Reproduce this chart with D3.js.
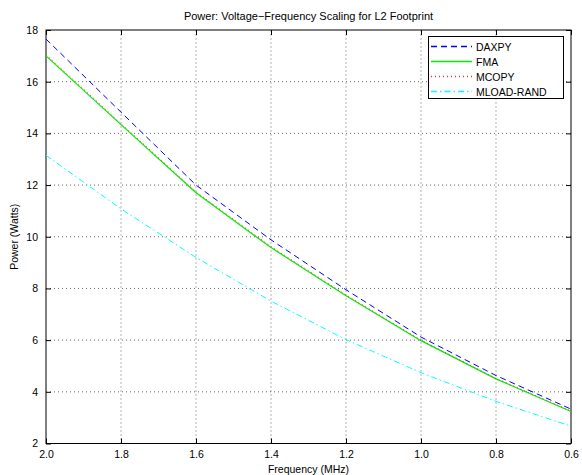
<!DOCTYPE html>
<html>
<head>
<meta charset="utf-8">
<script src="https://cdn.jsdelivr.net/npm/d3@7"></script>
<style>
  body { margin: 0; background: #fff; }
  text { font-family: "Liberation Sans", Arial, sans-serif; }
</style>
</head>
<body>
<div id="chart"></div>
<script>
// data
const freq = [2.0, 1.8, 1.6, 1.4, 1.2, 1.0, 0.8, 0.6];
const daxpy = [17.65, 14.82, 12.0, 9.88, 7.95, 6.12, 4.63, 3.33];
const fma = [17.0, 14.34, 11.7, 9.58, 7.72, 5.98, 4.5, 3.24];
const mcopy = [17.05, 14.38, 11.74, 9.62, 7.75, 6.0, 4.52, 3.26];
const mload = [13.15, 11.08, 9.2, 7.51, 6.02, 4.74, 3.63, 2.67];
const xTicks = [2.0, 1.8, 1.6, 1.4, 1.2, 1.0, 0.8, 0.6];
const yTicks = [2, 4, 6, 8, 10, 12, 14, 16, 18];

const series = [
  { name: "DAXPY", values: daxpy, color: "#0000ff", dash: "6,4", w: 1 },
  { name: "FMA", values: fma, color: "#00ee00", dash: "none", w: 1.2 },
  { name: "MCOPY", values: mcopy, color: "#ff3030", dash: "1,3", w: 1 },
  { name: "MLOAD-RAND", values: mload, color: "#00ffff", dash: "6,3,1.5,3", w: 1 }
];

/** CONSTANTS */
const width = 582,
  height = 475,
  margin = { top: 30, bottom: 31.5, left: 46, right: 11 };

/** SCALES */
const xScale = d3.scaleLinear()
  .domain([2.0, 0.6])
  .range([margin.left, width - margin.right]);

const yScale = d3.scaleLinear()
  .domain([2, 18])
  .range([height - margin.bottom, margin.top]);

const svg = d3.select("#chart")
  .append("svg")
  .attr("width", width)
  .attr("height", height);

const x0 = margin.left, x1 = width - margin.right;
const y0 = height - margin.bottom, y1 = margin.top;

// grid
svg.append("g")
  .selectAll("line")
  .data(xTicks.slice(1, -1))
  .join("line")
  .attr("x1", d => xScale(d)).attr("x2", d => xScale(d))
  .attr("y1", y0).attr("y2", y1)
  .attr("stroke", "#000").attr("stroke-width", 0.6)
  .attr("stroke-dasharray", "1,3");

svg.append("g")
  .selectAll("line")
  .data(yTicks.slice(1, -1))
  .join("line")
  .attr("x1", x0).attr("x2", x1)
  .attr("y1", d => yScale(d)).attr("y2", d => yScale(d))
  .attr("stroke", "#000").attr("stroke-width", 0.6)
  .attr("stroke-dasharray", "1,3");

// axes, ticks inside like matlab
const xAxis = d3.axisBottom(xScale).tickValues(xTicks).tickFormat(d3.format(".1f"))
  .tickSizeInner(-5).tickSizeOuter(0).tickPadding(7);
const yAxis = d3.axisLeft(yScale).tickValues(yTicks).tickFormat(d3.format("d"))
  .tickSizeInner(-5).tickSizeOuter(0).tickPadding(8);

svg.append("g")
  .attr("transform", `translate(0, ${y0})`)
  .call(xAxis)
  .call(g => g.select(".domain").remove())
  .selectAll("text").attr("font-size", 10.5).attr("fill", "#000")
  .style("font-family", "Liberation Sans, Arial, sans-serif");

svg.append("g")
  .attr("transform", `translate(${x0}, 0)`)
  .call(yAxis)
  .call(g => g.select(".domain").remove())
  .selectAll("text").attr("font-size", 10.5).attr("fill", "#000")
  .style("font-family", "Liberation Sans, Arial, sans-serif");

// top / right ticks
svg.append("g").attr("transform", `translate(0, ${y1})`)
  .call(d3.axisTop(xScale).tickValues(xTicks).tickFormat("").tickSizeInner(-5).tickSizeOuter(0))
  .call(g => g.select(".domain").remove());
svg.append("g").attr("transform", `translate(${x1}, 0)`)
  .call(d3.axisRight(yScale).tickValues(yTicks).tickFormat("").tickSizeInner(-5).tickSizeOuter(0))
  .call(g => g.select(".domain").remove());

// box
svg.append("rect")
  .attr("x", x0).attr("y", y1)
  .attr("width", x1 - x0).attr("height", y0 - y1)
  .attr("fill", "none").attr("stroke", "#000").attr("stroke-width", 1);

// lines
const line = d3.line()
  .x((d, i) => xScale(freq[i]))
  .y(d => yScale(d));

svg.append("g")
  .selectAll("path")
  .data(series)
  .join("path")
  .attr("d", d => line(d.values))
  .attr("fill", "none")
  .style("stroke", d => d.color)
  .style("stroke-width", d => d.w)
  .style("stroke-dasharray", d => d.dash);

// title and labels
svg.append("text")
  .attr("x", (x0 + x1) / 2).attr("y", 20)
  .attr("text-anchor", "middle").attr("font-size", 11)
  .text("Power: Voltage\u2212Frequency Scaling for L2 Footprint");

svg.append("text")
  .attr("x", (x0 + x1) / 2).attr("y", 473)
  .attr("text-anchor", "middle").attr("font-size", 10.5)
  .text("Frequency (MHz)");

svg.append("text")
  .attr("transform", `translate(18, ${(y0 + y1) / 2}) rotate(-90)`)
  .attr("text-anchor", "middle").attr("font-size", 10.5)
  .text("Power (Watts)");

// legend
const legend = svg.append("g");
legend.append("rect")
  .attr("x", 428.5).attr("y", 36.5)
  .attr("width", 135).attr("height", 62)
  .attr("fill", "#fff").attr("stroke", "#000").attr("stroke-width", 1);

const item = legend.selectAll("g.item")
  .data(series)
  .join("g")
  .attr("class", "item")
  .attr("transform", (d, i) => `translate(0, ${46.5 + i * 15})`);

item.append("path")
  .attr("d", "M431,0H472")
  .attr("fill", "none")
  .style("stroke", d => d.color)
  .style("stroke-width", d => d.w + 0.4)
  .style("stroke-dasharray", d => d.dash);

item.append("text")
  .attr("x", 476).attr("y", 4)
  .attr("font-size", 10.5)
  .text(d => d.name);
</script>
</body>
</html>
